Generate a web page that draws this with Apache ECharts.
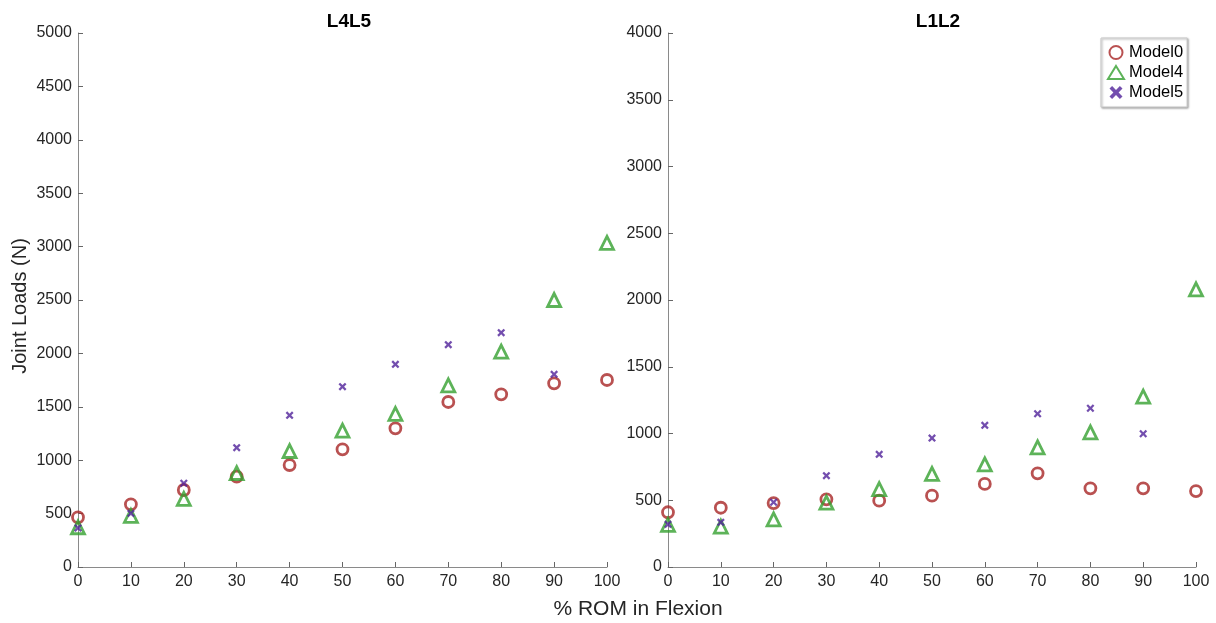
<!DOCTYPE html>
<html>
<head>
<meta charset="utf-8">
<script src="https://cdn.jsdelivr.net/npm/echarts@6/dist/echarts.min.js"></script>
<style>html,body{margin:0;padding:0;background:#fff}#c{width:1216px;height:623px}</style>
</head>
<body>
<div id="c"></div>
<script>
const flexion = [0, 10, 20, 30, 40, 50, 60, 70, 80, 90, 100];
// L4L5
const l45Model0 = [465, 587, 721, 846, 955, 1102, 1298, 1545, 1617, 1720, 1751];
const l45Model4 = [372, 478, 637, 880, 1086, 1276, 1433, 1701, 2016, 2500, 3035];
const l45Model5 = [365, 503, 784, 1117, 1420, 1688, 1898, 2082, 2194, 1804];
// L1L2
const l12Model0 = [410, 444, 479, 507, 497, 534, 622, 702, 589, 589, 569];
const l12Model4 = [315, 302, 357, 482, 584, 697, 769, 896, 1009, 1276, 2080];
const l12Model5 = [320, 335, 485, 684, 844, 966, 1061, 1148, 1189, 998];

const seriesNames = ['Model0', 'Model4', 'Model5'];
const red = '#A82626', green = '#35A030', purple = '#50229A';
const xPath = 'path://M0,2L2,0L5,3L8,0L10,2L7,5L10,8L8,10L5,7L2,10L0,8L3,5Z';

function pairs(vals) { return vals.map((v, i) => [flexion[i], v]); }

const font = 'Liberation Sans, Arial, sans-serif';

function xAx(gi) {
  return {
    gridIndex: gi, type: 'value', min: 0, max: 100, interval: 10,
    axisLine: { show: true, onZero: false, lineStyle: { color: '#8a8a8a' } },
    axisTick: { show: true, inside: true, length: 5, lineStyle: { color: '#666' } },
    axisLabel: { color: '#262626', fontSize: 16, fontFamily: font, margin: 7 },
    splitLine: { show: false }
  };
}
function yAx(gi, max) {
  return {
    gridIndex: gi, type: 'value', min: 0, max: max, interval: 500,
    axisLine: { show: true, lineStyle: { color: '#8a8a8a' } },
    axisTick: { show: true, inside: true, length: 5, lineStyle: { color: '#666' } },
    axisLabel: { color: '#262626', fontSize: 16, fontFamily: font, margin: 6, formatter: v => String(v) },
    splitLine: { show: false }
  };
}
function mk(name, gi, data) {
  const base = { name: name, type: 'scatter', xAxisIndex: gi, yAxisIndex: gi, data: pairs(data), z: 3 };
  if (name === 'Model0') {
    base.symbol = 'circle'; base.symbolSize = 11;
    base.itemStyle = { color: 'rgba(255,255,255,0)', borderColor: red, borderWidth: 2.8 };
  } else if (name === 'Model4') {
    base.symbol = 'triangle'; base.symbolSize = 13;
    base.itemStyle = { color: 'rgba(255,255,255,0)', borderColor: green, borderWidth: 2.8 };
  } else {
    base.symbol = xPath; base.symbolSize = 8;
    base.itemStyle = { color: purple };
  }
  return base;
}

const chart = echarts.init(document.getElementById('c'));
chart.setOption({
  animation: false,
  backgroundColor: '#fff',
  title: [
    { text: 'L4L5', left: 344, top: 7, textAlign: 'center', textStyle: { fontSize: 19, fontWeight: 'bold', color: '#000', fontFamily: font } },
    { text: 'L1L2', left: 933, top: 7, textAlign: 'center', textStyle: { fontSize: 19, fontWeight: 'bold', color: '#000', fontFamily: font } }
  ],
  grid: [
    { left: 78, right: 609, top: 33, bottom: 56 },
    { left: 668, right: 20, top: 33, bottom: 56 }
  ],
  xAxis: [xAx(0), xAx(1)],
  yAxis: [yAx(0, 5000), yAx(1, 4000)],
  graphic: [
    { type: 'text', x: 638, y: 599, style: { text: '% ROM in Flexion', fill: '#262626', font: '21px ' + font, align: 'center', verticalAlign: 'top' } },
    { type: 'text', x: 10, y: 306, rotation: Math.PI / 2, style: { text: 'Joint Loads (N)', fill: '#262626', font: '20px ' + font, align: 'center', verticalAlign: 'top' } }
  ],
  legend: {
    data: seriesNames, orient: 'vertical', left: 1101, top: 38,
    itemWidth: 16, itemHeight: 13, itemGap: 3,
    padding: [6, 4, 6, 6],
    borderColor: '#c8c8c8', borderWidth: 1, backgroundColor: '#fff',
    shadowColor: 'rgba(0,0,0,0.35)', shadowBlur: 2, shadowOffsetX: 1, shadowOffsetY: 1,
    textStyle: { fontSize: 16.5, color: '#000', fontFamily: font, padding: [0, 0, 0, 0] }
  },
  series: [
    mk('Model0', 0, l45Model0), mk('Model4', 0, l45Model4), mk('Model5', 0, l45Model5),
    mk('Model0', 1, l12Model0), mk('Model4', 1, l12Model4), mk('Model5', 1, l12Model5)
  ]
});
</script>
</body>
</html>
